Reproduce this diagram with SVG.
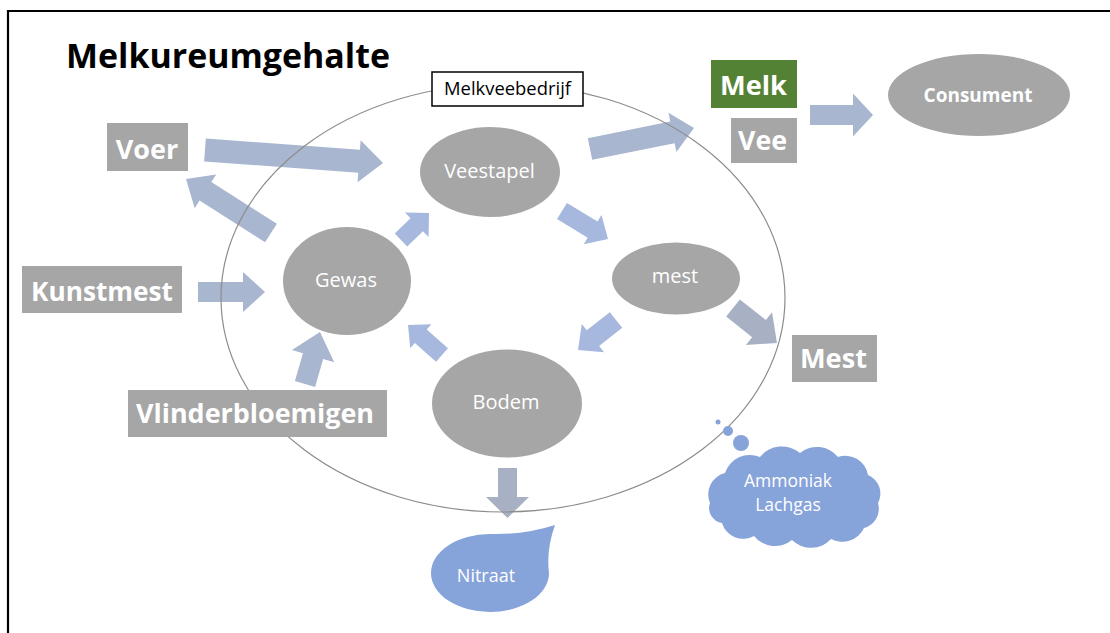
<svg xmlns="http://www.w3.org/2000/svg" width="1110" height="633" viewBox="0 0 1110 633">
<style>
.frame{fill:none;stroke:#000;stroke-width:2.2}
.title{font-family:"Open Sans","Liberation Sans",sans-serif;font-weight:700;font-size:34px;fill:#000}
.box{fill:#a6a6a6}
.green{fill:#548235}
.blab{font-family:"Open Sans","Liberation Sans",sans-serif;font-weight:700;font-size:27px;fill:#fff;text-anchor:middle}
.node{fill:#a6a6a6}
.nlab{font-family:"Open Sans","Liberation Sans",sans-serif;font-size:20px;fill:#fff;text-anchor:middle}
.arr{fill:#a9b6d0}
.arrb{fill:#a6b8de}
.arrg{fill:#a8b1c4}
.farm{fill:none;stroke:#8c8c8c;stroke-width:1.2}
.farmbox{fill:#fff;stroke:#000;stroke-width:1.5}
.farmlab{font-family:"Open Sans","Liberation Sans",sans-serif;font-size:17.5px;fill:#000;text-anchor:middle}
.blue{fill:#86a3da}
.wlab{font-family:"Open Sans","Liberation Sans",sans-serif;fill:#fff;text-anchor:middle}
</style>
<rect x="0" y="0" width="1110" height="633" fill="#fff"/>
<path class="frame" d="M8,633 V11 H1110"/>
<text class="title" x="66" y="68" textLength="324" lengthAdjust="spacingAndGlyphs">Melkureumgehalte</text>

<g id="connectors">
  <path class="arr" d="M0,-11.5H154.5V-21L178.5,0L154.5,21V11.5H0Z" transform="translate(205,150) rotate(4.18)"/>
  <path class="arr" d="M0,-11H77.7V-20L100.7,0L77.7,20V11H0Z" transform="translate(271,233) rotate(-147.57)"/>
  <path class="arr" d="M0,-10H45V-20L67,0L45,20V10H0Z" transform="translate(198,292)"/>
  <path class="arr" d="M0,-10.5H29.1V-22L54.1,0L29.1,22V10.5H0Z" transform="translate(305,384) rotate(-73.9)"/>
  <path class="arrb" d="M0,-9H21.9V-17L38.9,0L21.9,17V9H0Z" transform="translate(401,240) rotate(-43.96)"/>
  <path class="arrb" d="M0,-9.5H35.85V-17L53.85,0L35.85,17V9.5H0Z" transform="translate(562,211) rotate(31.33)"/>
  <path class="arr" d="M0,-11H84.1V-20L106.1,0L84.1,20V11H0Z" transform="translate(590,149) rotate(-11.42)"/>
  <path class="arr" d="M0,-10H43V-21.5L63,0L43,21.5V10H0Z" transform="translate(810,115)"/>
  <path class="arrb" d="M0,-10H29.4V-18L48.4,0L29.4,18V10H0Z" transform="translate(616,320) rotate(141.71)"/>
  <path class="arrg" d="M0,-11H33.2V-21L56.2,0L33.2,21V11H0Z" transform="translate(733,308) rotate(38.5)"/>
  <path class="arrb" d="M0,-9H28.3V-16L45.3,0L28.3,16V9H0Z" transform="translate(442,355) rotate(-138.58)"/>
  <path class="arrg" d="M0,-9.5H29V-21.5L50,0L29,21.5V9.5H0Z" transform="translate(507.5,468) rotate(90)"/>
</g>

<g id="melkveebedrijf">
  <ellipse class="farm" cx="503" cy="298" rx="282" ry="214"/>
  <rect class="farmbox" x="432" y="72" width="151" height="34"/>
  <text class="farmlab" x="507.5" y="95" textLength="127" lengthAdjust="spacingAndGlyphs">Melkveebedrijf</text>
</g>

<g id="voer">
  <rect class="box" x="107" y="123" width="81" height="48"/>
  <text class="blab" x="147" y="159">Voer</text>
</g>
<g id="kunstmest">
  <rect class="box" x="22" y="266" width="160" height="47"/>
  <text class="blab" x="102" y="301" textLength="142" lengthAdjust="spacingAndGlyphs">Kunstmest</text>
</g>
<g id="vlinderbloemigen">
  <rect class="box" x="128" y="390" width="259" height="47"/>
  <text class="blab" x="255" y="423" textLength="238" lengthAdjust="spacingAndGlyphs">Vlinderbloemigen</text>
</g>
<g id="melk">
  <rect class="green" x="711" y="60" width="86" height="48"/>
  <text class="blab" x="753.5" y="95" textLength="67" lengthAdjust="spacingAndGlyphs">Melk</text>
</g>
<g id="vee">
  <rect class="box" x="731" y="118" width="66" height="45"/>
  <text class="blab" x="762.5" y="150" textLength="49" lengthAdjust="spacingAndGlyphs">Vee</text>
</g>
<g id="mest-uit">
  <rect class="box" x="792" y="335" width="85" height="47"/>
  <text class="blab" x="833.5" y="368" textLength="67" lengthAdjust="spacingAndGlyphs">Mest</text>
</g>

<g id="veestapel">
  <ellipse class="node" cx="490" cy="172" rx="70" ry="45"/>
  <text class="nlab" x="489.5" y="178">Veestapel</text>
</g>
<g id="gewas">
  <ellipse class="node" cx="347" cy="281" rx="64" ry="54"/>
  <text class="nlab" x="346" y="287">Gewas</text>
</g>
<g id="mest">
  <ellipse class="node" cx="676" cy="278.5" rx="64" ry="36"/>
  <text class="nlab" x="675" y="283">mest</text>
</g>
<g id="bodem">
  <ellipse class="node" cx="507" cy="403.5" rx="75" ry="54"/>
  <text class="nlab" x="506" y="409">Bodem</text>
</g>
<g id="consument">
  <ellipse class="node" cx="979" cy="95" rx="91" ry="41"/>
  <text class="wlab" x="978" y="102" font-size="19" font-weight="700">Consument</text>
</g>

<g id="nitraat">
  <path class="blue" d="M431,573 A59,39 0 0 1 490,534 Q524,535 555,525 Q546,550 549,573 A59,39 0 0 1 490,612 A59,39 0 0 1 431,573 Z"/>
  <text class="wlab" x="486" y="582" font-size="18">Nitraat</text>
</g>

<g id="ammoniak-lachgas">
  <circle class="blue" cx="718" cy="422" r="2.5"/>
  <circle class="blue" cx="728" cy="431" r="5"/>
  <circle class="blue" cx="741" cy="443" r="8"/>
  <path class="blue" d="M710,503 A22,22 0 0 1 725,473 A26,26 0 0 1 760,457 A28,28 0 0 1 800,453 A27,27 0 0 1 838,457 A23,23 0 0 1 868,475 A20,20 0 0 1 878,503 A20,20 0 0 1 864,528 A24,24 0 0 1 831,539 A27,27 0 0 1 792,540 A27,27 0 0 1 754,536 A22,22 0 0 1 722,523 A15,15 0 0 1 710,503 Z"/>
  <text class="wlab" x="788" y="487" font-size="17.5">Ammoniak</text>
  <text class="wlab" x="788" y="511" font-size="17.5">Lachgas</text>
</g>
</svg>
